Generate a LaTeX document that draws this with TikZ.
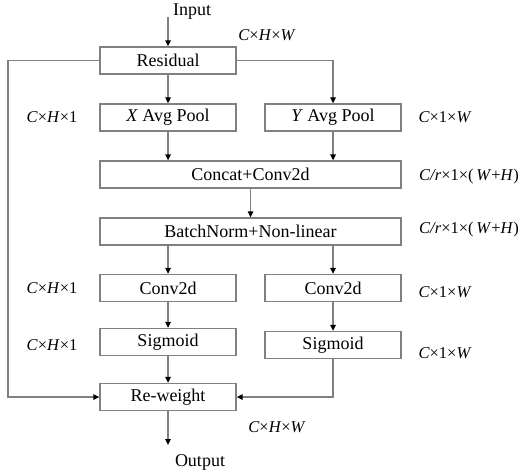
\documentclass[tikz,border=0pt]{standalone}
\usepackage{fontspec}
\setmainfont{Liberation Serif}
\usetikzlibrary{arrows.meta,positioning}

\begin{document}
\begin{tikzpicture}[x=1pt,y=-1pt,
  blk/.style={draw=black!50,line width=1.3pt,minimum width=136pt,minimum height=27pt,inner sep=0pt,font=\fontsize{18}{20}\selectfont},
  wide/.style={blk,minimum width=301pt},
  txt/.style={font=\fontsize{18}{20}\selectfont},
  dim/.style={font=\fontsize{16.5}{19}\selectfont},
  arr/.style={draw=black!50,line width=1.3pt,-{Triangle[length=6pt,width=5.5pt,black]}}]
  \useasboundingbox (0,0) rectangle (526,473);

  \node[txt] (in) at (192,12) {Input};
  \node[blk] (res) at (168,60.5) {Residual};
  \node[blk] (xp) at (168,117.5) {\textit{X} Avg Pool};
  \node[blk] (yp) at (333,117.5) {\textit{Y} Avg Pool};
  \node[wide] (cat) at (250.5,174.5) {Concat+Conv2d};
  \node[wide] (bn) at (250.5,231.5) {\raisebox{-5pt}{BatchNorm+Non-linear}};
  \node[blk] (cl) at (168,288) {Conv2d};
  \node[blk] (cr) at (333,288) {Conv2d};
  \node[blk] (sl) at (168,342) {Sigmoid};
  \node[blk] (sr) at (333,345) {Sigmoid};
  \node[blk] (rw) at (168,397) {Re-weight};
  \node[txt] (out) at (200,462) {Output};

  % tensor sizes
  \node[dim] (d1) at (267,35) {\textit{C}×\textit{H}×\textit{W}};
  \node[dim] (d2) at (52,117) {\textit{C}×\textit{H}×1};
  \node[dim] (d3) at (445,117) {\textit{C}×1×\textit{W}};
  \node[dim] (d4) at (469,177) {\textit{C/r}×1×(\,\textit{W}+\textit{H})};
  \node[dim] (d5) at (469,230) {\textit{C/r}×1×(\,\textit{W}+\textit{H})};
  \node[dim] (d6) at (52,288) {\textit{C}×\textit{H}×1};
  \node[dim] (d7) at (445,292) {\textit{C}×1×\textit{W}};
  \node[dim] (d8) at (52,345) {\textit{C}×\textit{H}×1};
  \node[dim] (d9) at (445,353) {\textit{C}×1×\textit{W}};
  \node[dim] (d10) at (277,427) {\textit{C}×\textit{H}×\textit{W}};

  \coordinate (ia) at (168,17);
  \coordinate (lt) at (8,60.5);
  \coordinate (oa) at (168,445);

  \draw[arr] (ia) -- (res.north);
  \draw[arr] (res) -- (xp);
  \draw[arr] (res.east) -| (yp.north);
  \draw[arr] (xp) -- (xp|-cat.north);
  \draw[arr] (yp) -- (yp|-cat.north);
  \draw[arr] (cat) -- (bn);
  \draw[arr] (cl|-bn.south) -- (cl);
  \draw[arr] (cr|-bn.south) -- (cr);
  \draw[arr] (cl) -- (sl);
  \draw[arr] (cr) -- (sr);
  \draw[arr] (sl) -- (rw);
  \draw[arr] (res.west) -- (lt) |- (rw.west);
  \draw[arr] (sr.south) |- (rw.east);
  \draw[arr] (rw) -- (oa);
\end{tikzpicture}
\end{document}
